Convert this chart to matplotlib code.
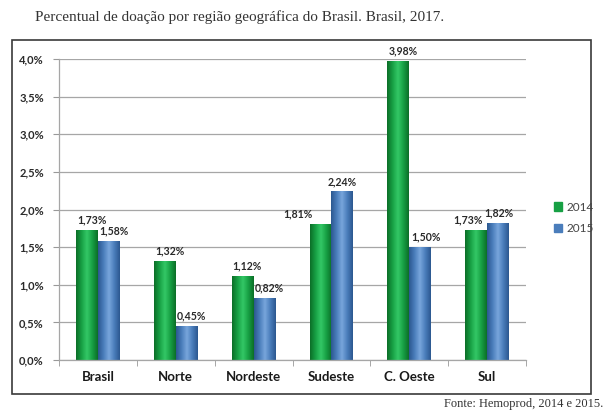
import matplotlib
matplotlib.use("Agg")
import matplotlib.pyplot as plt
import numpy as np
from matplotlib.patches import Rectangle
from matplotlib.colors import LinearSegmentedColormap

categories = ["Brasil", "Norte", "Nordeste", "Sudeste", "C. Oeste", "Sul"]
series_names = ["2014", "2015"]
vals_2014 = [1.73, 1.32, 1.12, 1.81, 3.98, 1.73]
vals_2015 = [1.58, 0.45, 0.82, 2.24, 1.50, 1.82]
yticks = [0.0, 0.5, 1.0, 1.5, 2.0, 2.5, 3.0, 3.5, 4.0]
title = "Percentual de doação por região geográfica do Brasil. Brasil, 2017."
source = "Fonte: Hemoprod, 2014 e 2015."

def fmt(v, d=2):
    return (f"{v:.{d}f}").replace(".", ",") + "%"

fig = plt.figure(figsize=(6.13, 4.2), dpi=100)
fig.patch.set_facecolor("white")

# outer frame
fig.patches.append(Rectangle((12/613, 1-394/420), (591-12)/613, (394-40)/420,
                             transform=fig.transFigure, fill=False,
                             edgecolor="#3a3a3a", linewidth=1.2, zorder=0))

ax = fig.add_axes([59/613, 1-360/420, (526-59)/613, (360-59)/420])
ax.set_facecolor("white")

x = np.arange(len(categories))
w = 0.28
green_cmap = LinearSegmentedColormap.from_list("g", ["#0c6e28", "#17a044", "#34c866", "#17a044", "#0c6e28"])
blue_cmap = LinearSegmentedColormap.from_list("b", ["#2c5890", "#4a7dbb", "#78a6dc", "#4a7dbb", "#2c5890"])

b1 = ax.bar(x - w/2, vals_2014, w, color="#17a044", label=series_names[0], zorder=2)
b2 = ax.bar(x + w/2, vals_2015, w, color="#4a7dbb", label=series_names[1], zorder=2)

grad = np.linspace(0, 1, 64).reshape(1, -1)
for bars, cmap in ((b1, green_cmap), (b2, blue_cmap)):
    for p in bars:
        x0, y0 = p.get_x(), p.get_y()
        ww, hh = p.get_width(), p.get_height()
        im = ax.imshow(grad, cmap=cmap, aspect="auto",
                       extent=[x0, x0 + ww, y0, y0 + hh], zorder=2.1)
        im.set_clip_path(p)

# label nudges (style, in category units) mimicking the original layout
nudge_2014 = [0.06, 0.06, 0.06, -0.29, 0.06, -0.10]
nudge_2015 = [0.06, 0.06, 0.06, 0.0, 0.07, 0.01]
for bars, vals, nudges in ((b1, vals_2014, nudge_2014), (b2, vals_2015, nudge_2015)):
    for p, v, dx in zip(bars, vals, nudges):
        ax.text(p.get_x() + p.get_width()/2 + dx, v + 0.06, fmt(v),
                ha="center", va="bottom", fontsize=7.6, fontweight="bold",
                family="Lato", color="#2a2a2a", clip_on=False, zorder=5)

ax.set_xlim(-0.5, len(categories) - 0.5)
ax.set_ylim(0, 4.0)
ax.set_yticks(yticks)
ax.set_yticklabels([fmt(t, 1) for t in yticks], fontsize=8, fontweight="bold",
                   family="Lato", color="#2a2a2a")
ax.set_xticks(x)
ax.set_xticklabels(categories, fontsize=9.5, fontweight="bold", family="Lato",
                   color="#1a1a1a")
ax.set_xticks(np.arange(-0.5, len(categories), 1), minor=True)
ax.tick_params(axis="x", which="major", length=0, pad=8)
ax.tick_params(axis="x", which="minor", length=4, color="#999999", direction="out")
ax.tick_params(axis="y", length=4, color="#999999", pad=7)
ax.grid(axis="y", color="#a6a6a6", linewidth=0.9, zorder=0)
ax.set_axisbelow(True)
for s in ("top", "right"):
    ax.spines[s].set_visible(False)
for s in ("left", "bottom"):
    ax.spines[s].set_color("#a6a6a6")
    ax.spines[s].set_linewidth(0.9)

leg = fig.legend(handles=[Rectangle((0, 0), 1, 1, color="#17a044"),
                          Rectangle((0, 0), 1, 1, color="#4a7dbb")],
                 labels=series_names, loc="center left",
                 bbox_to_anchor=(543/613, 1-218/420), frameon=False,
                 handlelength=0.7, handleheight=0.7, handletextpad=0.4,
                 labelspacing=0.9, prop={"family": "Lato", "size": 8.5})
for t in leg.get_texts():
    t.set_color("#444444")

fig.text(35/613, 1-17/420, title, ha="left", va="center", fontsize=11,
         family="Liberation Serif", color="#333333")
fig.text(603/613, 1-404/420, source, ha="right", va="center", fontsize=9,
         family="Liberation Serif", color="#333333")

fig.savefig("out.png", dpi=100, facecolor="white")
